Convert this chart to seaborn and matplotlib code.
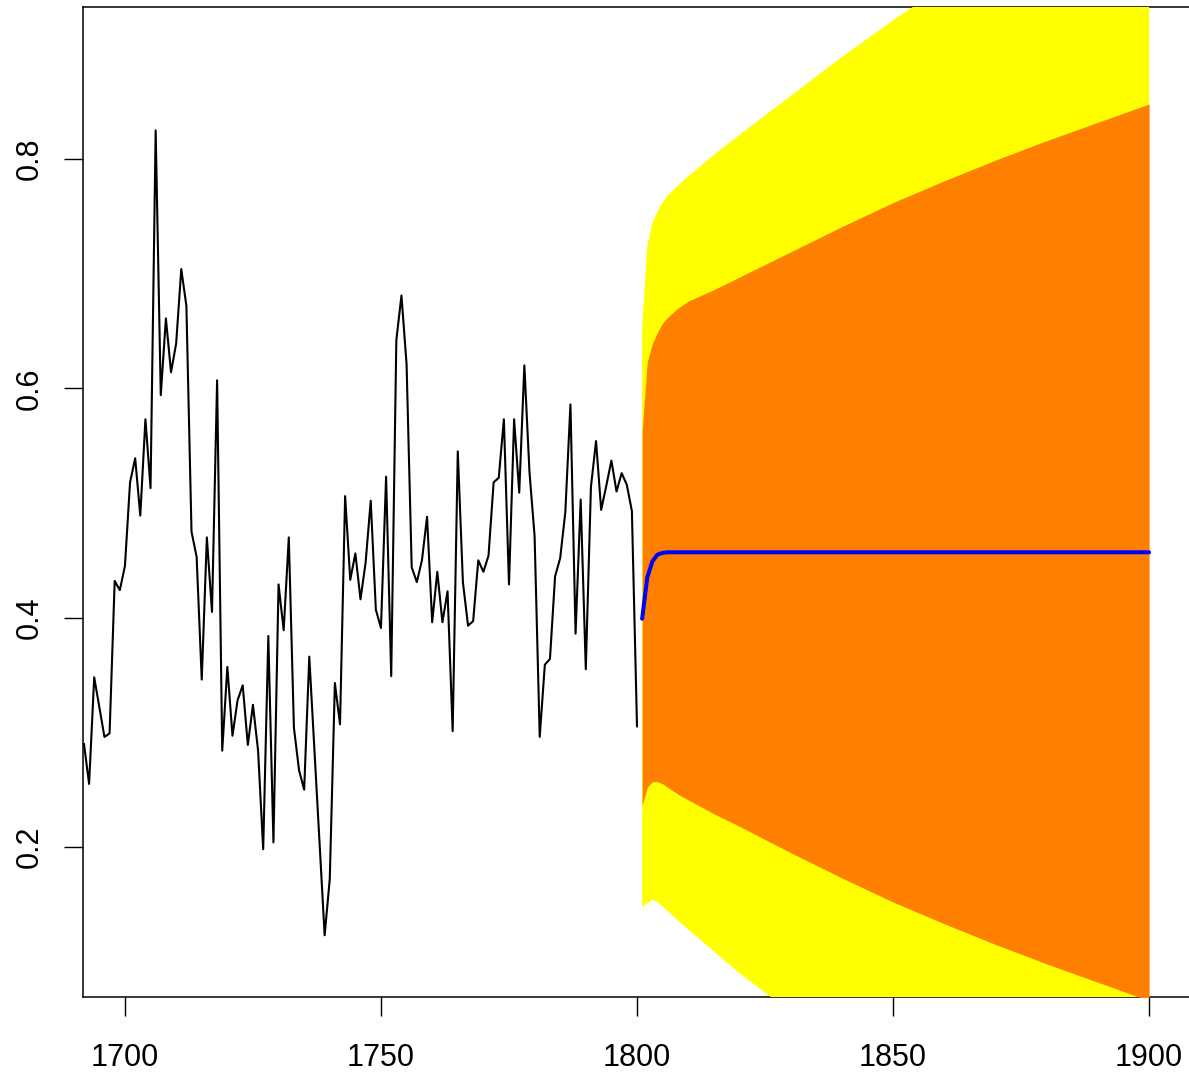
import matplotlib
matplotlib.use("Agg")
import matplotlib.pyplot as plt
import seaborn as sns
import pandas as pd

# Observed annual series, 1692-1800
obs_start = 1692
obs_values = [
    0.290, 0.255, 0.348, 0.322, 0.296, 0.299, 0.432, 0.424, 0.445, 0.518,
    0.539, 0.489, 0.573, 0.513, 0.825, 0.594, 0.661, 0.614, 0.639, 0.704,
    0.672, 0.475, 0.453, 0.346, 0.470, 0.405, 0.607, 0.284, 0.357, 0.297,
    0.328, 0.341, 0.289, 0.324, 0.284, 0.198, 0.384, 0.204, 0.429, 0.389,
    0.470, 0.304, 0.267, 0.250, 0.366, 0.285, 0.204, 0.123, 0.172, 0.343,
    0.307, 0.506, 0.433, 0.456, 0.416, 0.448, 0.502, 0.407, 0.391, 0.523,
    0.349, 0.642, 0.681, 0.621, 0.444, 0.431, 0.450, 0.488, 0.396, 0.440,
    0.396, 0.423, 0.301, 0.545, 0.431, 0.393, 0.397, 0.450, 0.440, 0.454,
    0.518, 0.522, 0.573, 0.429, 0.573, 0.509, 0.620, 0.527, 0.471, 0.296,
    0.359, 0.364, 0.436, 0.452, 0.492, 0.586, 0.386, 0.503, 0.355, 0.514,
    0.554, 0.494, 0.515, 0.537, 0.510, 0.526, 0.516, 0.493, 0.305,
]
obs_years = list(range(obs_start, obs_start + len(obs_values)))

# Forecast horizon: point forecast with 80% and 95% prediction intervals
fc_years = [1801, 1802, 1803, 1804, 1805, 1806, 1808, 1810, 1815, 1820,
            1830, 1840, 1850, 1860, 1870, 1880, 1890, 1900]
fc_mean = [0.399, 0.435, 0.449, 0.455, 0.4565, 0.457, 0.457, 0.457, 0.457,
           0.457, 0.457, 0.457, 0.457, 0.457, 0.457, 0.457, 0.457, 0.457]
lo80 = [0.236, 0.252, 0.257, 0.257, 0.255, 0.252, 0.246, 0.241, 0.229,
        0.218, 0.195, 0.173, 0.152, 0.133, 0.115, 0.098, 0.082, 0.066]
hi80 = [0.563, 0.623, 0.639, 0.649, 0.657, 0.662, 0.670, 0.676, 0.686,
        0.697, 0.719, 0.741, 0.762, 0.781, 0.799, 0.816, 0.832, 0.848]
lo95 = [0.148, 0.151, 0.154, 0.152, 0.148, 0.144, 0.136, 0.128, 0.109,
        0.090, 0.056, 0.022, -0.010, -0.039, -0.066, -0.092, -0.117, -0.141]
hi95 = [0.652, 0.724, 0.744, 0.754, 0.762, 0.768, 0.777, 0.785, 0.8035,
        0.821, 0.855, 0.889, 0.921, 0.951, 0.979, 1.005, 1.030, 1.054]

obs = pd.DataFrame({"year": obs_years, "value": obs_values})
fc = pd.DataFrame({"year": fc_years, "mean": fc_mean,
                   "lo80": lo80, "hi80": hi80, "lo95": lo95, "hi95": hi95})

sns.set_style("ticks")
plt.rcParams["font.family"] = ["Liberation Sans", "DejaVu Sans"]

W, H = 1189, 1072
fig = plt.figure(figsize=(W / 100, H / 100), dpi=100)
ax = fig.add_axes([83.3 / W, 1 - 997.3 / H, 1117 / W, 990 / H])

# prediction bands, drawn above the frame like base R polygons
ax.fill_between(fc["year"], fc["lo95"], fc["hi95"], color="#FFFF00",
                linewidth=0, zorder=3)
ax.fill_between(fc["year"], fc["lo80"], fc["hi80"], color="#FF7F00",
                linewidth=0, zorder=3)

sns.lineplot(data=obs, x="year", y="value", ax=ax, color="black",
             linewidth=1.5, zorder=4)
sns.lineplot(data=fc, x="year", y="mean", ax=ax, color="#0000FF",
             linewidth=2.9, zorder=5)

ax.set_xlim(1691.87, 1910)
ax.set_ylim(0.0689, 0.9323)
ax.set_xticks([1700, 1750, 1800, 1850, 1900])
ax.set_yticks([0.2, 0.4, 0.6, 0.8])
ax.set_yticklabels(["0.2", "0.4", "0.6", "0.8"], rotation=90, va="center")
ax.set_xlabel("")
ax.set_ylabel("")

for side in ["left", "bottom", "top", "right"]:
    ax.spines[side].set_visible(True)
    ax.spines[side].set_linewidth(1.1)
    ax.spines[side].set_color("black")
    ax.spines[side].set_zorder(2)

ax.tick_params(axis="both", direction="out", length=13.7, width=1.0,
               color="black", labelsize=22, labelcolor="black")
ax.tick_params(axis="x", pad=19)
ax.tick_params(axis="y", pad=14)
ax.grid(False)
ax.set_facecolor("white")

fig.savefig("out.png", dpi=100, facecolor="white")
